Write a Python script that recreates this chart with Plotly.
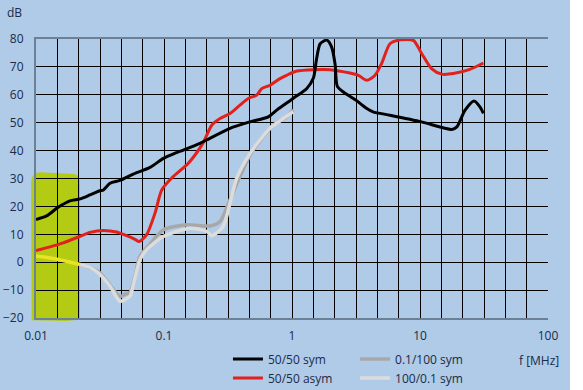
import plotly.graph_objects as go

# ---- data (frequency in MHz, level in dB) ----
sym_f = [0.01, 0.0121, 0.0149, 0.0184, 0.0221, 0.0264, 0.0316, 0.0336, 0.0379, 0.0453, 0.0575,
         0.0778, 0.099, 0.1257, 0.1415, 0.191, 0.215, 0.328, 0.47, 0.653, 0.759, 1.02,
         1.30, 1.47, 1.55, 1.66, 1.87, 2.04, 2.17, 2.26, 2.52, 3.17, 3.84, 4.3, 5.83, 10.3, 17.7,
         19.4, 22.5, 26.4, 29.4, 31.3]
sym_db = [15.3, 16.6, 19.7, 22.0, 22.7, 24.1, 25.6, 25.9, 28.3, 29.3, 31.6,
          34.0, 37.2, 39.3, 40.2, 42.6, 43.8, 48.0, 50.3, 52.1, 54.5, 58.7,
          62.2, 66.0, 72.4, 78.3, 79.6, 77.1, 71.0, 63.0, 61.0, 58.0, 55.1, 53.9, 52.7, 50.3, 47.6,
          48.5, 54.5, 57.8, 55.7, 53.3]

asym_f = [0.01, 0.0129, 0.0163, 0.0221, 0.0264, 0.0336, 0.0427, 0.0511, 0.0593, 0.064, 0.0732,
          0.0851, 0.096, 0.118, 0.155, 0.201, 0.236, 0.274, 0.328, 0.392, 0.456, 0.53,
          0.58, 0.673, 0.805, 0.908, 1.09, 1.47, 1.98, 2.84, 3.30, 3.84, 4.45, 5.01, 5.83, 6.98,
          8.87, 10.3, 12.3, 14.8, 18.2, 24.5, 31.3]
asym_db = [4.2, 5.5, 6.9, 9.3, 10.7, 11.4, 10.8, 9.5, 8.2, 7.4, 9.9,
           17.6, 25.9, 30.7, 35.5, 42.6, 49.1, 51.5, 53.3, 56.3, 58.7, 59.9,
           62.2, 63.4, 65.8, 67.0, 68.5, 69.0, 69.0, 67.8, 67.0, 65.2, 67.0, 71.2, 78.3, 79.7,
           79.5, 74.8, 69.4, 67.4, 67.6, 69.1, 71.4]

g1_f = [0.0221, 0.0264, 0.0316, 0.0402, 0.0453, 0.0495, 0.0543, 0.0593, 0.0649, 0.0778, 0.099,
        0.150, 0.229, 0.274, 0.328, 0.392, 0.47, 0.562, 0.714, 0.908, 1.02]
g1_db = [-0.8, -2.0, -3.8, -9.8, -12.3, -11.5, -10.7, -5.0, 2.1, 6.5, 11.6,
         13.4, 13.0, 14.6, 22.4, 30.7, 38.4, 43.5, 49.1, 52.1, 54.7]

g2_f = [0.0221, 0.0267, 0.0316, 0.0379, 0.0453, 0.0495, 0.0543, 0.058, 0.0649, 0.0732,
        0.099, 0.160, 0.216, 0.236, 0.290, 0.328, 0.370, 0.47, 0.562, 0.673, 0.855, 1.02]
g2_db = [-0.8, -2.0, -4.4, -8.6, -14.0, -13.4, -12.2, -7.4, 0.9, 4.5,
         9.2, 12.2, 11.0, 9.5, 12.8, 21.2, 30.1, 39.0, 43.8, 48.0, 51.5, 53.9]

yel_f = [0.01, 0.0149, 0.0221]
yel_db = [2.2, 1.0, -0.8]

x_labels = ["0.01", "0.1", "1", "10", "100"]
y_ticks = [-20, -10, 0, 10, 20, 30, 40, 50, 60, 70, 80]

# ---- styling ----
BG = "#AFCBE7"
TXT = "#1B2A48"
FONT = "Open Sans"

# vertical grid: six divisions per decade, labels at decades only
grid_vals = [10 ** (-2 + k / 6) for k in range(25)]
grid_text = [x_labels[k // 6] if k % 6 == 0 else "" for k in range(25)]

fig = go.Figure()

line_kw = dict(shape="spline", smoothing=0.7)
fig.add_trace(go.Scatter(x=g1_f, y=g1_db, mode="lines", name="0.1/100 sym",
                         line=dict(color="#A8A8A8", width=3.5, **line_kw), legend="legend2"))
fig.add_trace(go.Scatter(x=g2_f, y=g2_db, mode="lines", name="100/0.1 sym",
                         line=dict(color="#DCDCDC", width=3.5, **line_kw), legend="legend2"))
fig.add_trace(go.Scatter(x=yel_f, y=yel_db, mode="lines", showlegend=False,
                         line=dict(color="#E9E423", width=3.5, **line_kw), hoverinfo="skip"))
fig.add_trace(go.Scatter(x=asym_f, y=asym_db, mode="lines", name="50/50 asym",
                         line=dict(color="#E2211C", width=3, **line_kw), legend="legend"))
fig.add_trace(go.Scatter(x=sym_f, y=sym_db, mode="lines", name="50/50 sym",
                         line=dict(color="#000000", width=3, **line_kw), legend="legend"))

# green highlighted band (paper coordinates so it may bleed slightly past the frame)
green_path = ("M -0.0085,-0.008 L -0.0095,0.48 Q -0.0095,0.522 0.008,0.522 "
              "L 0.075,0.516 Q 0.0859,0.512 0.0859,0.485 L 0.0859,-0.004 "
              "Q 0.075,-0.012 0.04,-0.010 Z")
fig.add_shape(type="path", path=green_path, xref="paper", yref="paper", layer="below",
              fillcolor="#B3CB12", line=dict(width=0))

# white strip at the right edge of the picture
fig.add_shape(type="rect", xref="paper", yref="paper", x0=1.043, x1=1.2, y0=-0.6, y1=1.5,
              fillcolor="white", line=dict(width=0), layer="above")

leg_common = dict(xref="container", yref="container", yanchor="middle", xanchor="left",
                  bgcolor="rgba(0,0,0,0)", font=dict(size=12, color=TXT), tracegroupgap=0)
fig.update_layout(
    width=583, height=390,
    margin=dict(l=36, r=35, t=39, b=72, autoexpand=False),
    paper_bgcolor=BG, plot_bgcolor=BG,
    font=dict(family=FONT, size=12, color=TXT),
    showlegend=True,
    legend=dict(x=0.391, y=0.055, traceorder="reversed", **leg_common),
    legend2=dict(x=0.609, y=0.055, **leg_common),
    xaxis=dict(type="log", range=[-2, 2], tickmode="array", tickvals=grid_vals,
               ticktext=grid_text, showgrid=True, gridcolor="black", gridwidth=1.3,
               showline=True, mirror=True, linecolor="#6C8096", linewidth=2,
               ticks="", ticklabelstandoff=6, zeroline=False, automargin=False,
               tickfont=dict(size=12, color=TXT)),
    yaxis=dict(range=[-20, 80], tickmode="array", tickvals=y_ticks,
               showgrid=True, gridcolor="black", gridwidth=1.3,
               showline=True, linecolor="#6C8096", linewidth=2,
               ticks="", ticklabelstandoff=8, zeroline=False, automargin=False,
               tickfont=dict(size=12, color=TXT)),
)

fig.add_annotation(text="dB", xref="paper", yref="paper", x=-0.06, y=1.094,
                   xanchor="left", yanchor="middle", showarrow=False,
                   font=dict(size=12, color=TXT))
fig.add_annotation(text="f [MHz]", xref="paper", yref="paper", x=1.025, y=-0.151,
                   xanchor="right", yanchor="middle", showarrow=False,
                   font=dict(size=12, color=TXT))

fig.write_html("out.html", config={"displayModeBar": False},
               post_script="document.body.style.margin='0';")
